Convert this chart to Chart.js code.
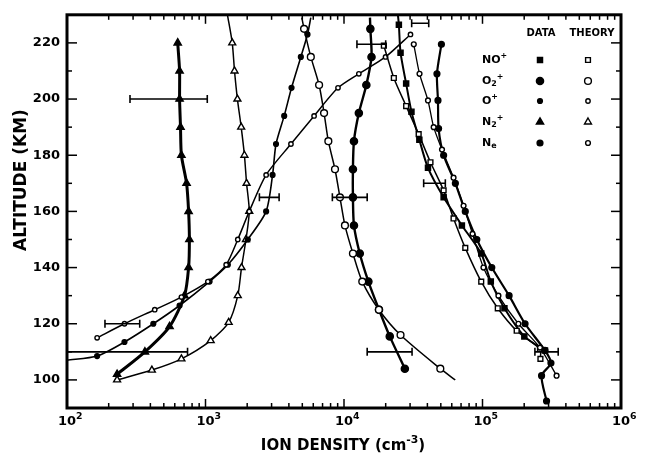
<!DOCTYPE html>
<html>
<head>
<meta charset="utf-8">
<script src="https://cdn.jsdelivr.net/npm/chart.js@4.4.0/dist/chart.umd.min.js"></script>
<style>
  html, body { margin: 0; padding: 0; background: #fff; }
</style>
</head>
<body>
<canvas id="chart" width="650" height="456"></canvas>
<script>
// axis ticks
const xTicks = [1e2, 1e3, 1e4, 1e5, 1e6];
const xTickExp = ['2', '3', '4', '5', '6'];
const yTicks = [100, 120, 140, 160, 180, 200, 220];

// NO+
const noDataAlt = [230, 226.5, 216.5, 205.5, 195.5, 185.5, 175.5, 165, 155, 145, 135, 125.5, 115.5, 110.5];
const noDataVal = [24500, 24900, 25600, 28100, 30700, 35000, 40400, 52400, 71000, 97900, 114800, 144000, 200500, 282500];
const noTheoAlt = [219, 207.5, 197.5, 187.5, 177.5, 167.5, 157.5, 147, 135, 125.5, 117.5, 111, 107.5];
const noTheoVal = [19400, 22900, 28100, 34600, 42100, 52400, 61800, 75100, 97900, 128900, 176500, 260000, 262000];

// O2+
const o2DataAlt = [229, 225, 215, 205, 195, 185, 175, 165, 155, 145, 135, 125, 115.5, 104];
const o2DataVal = [15400, 15500, 15800, 14500, 12800, 11800, 11600, 11600, 11800, 13000, 15000, 17900, 21400, 27500];
const o2TheoAlt = [229, 225, 215, 205, 195, 185, 175, 165, 155, 145, 135, 125, 116, 104, 100];
const o2TheoVal = [4960, 5150, 5760, 6610, 7180, 7710, 8610, 9350, 10160, 11600, 13550, 17860, 25600, 49600, 63600];

// O+
const oDataAlt = [229, 223, 215, 204, 194, 184, 173, 160, 150, 141, 135, 126.5, 120, 113.5, 108.5, 107];
const oDataVal = [5760, 5450, 4880, 4180, 3700, 3230, 3050, 2740, 2020, 1450, 1070, 650, 420, 260, 165, 100];
const oTheoAlt = [223, 215, 209, 204, 194, 184, 173, 160, 150, 141, 135, 129.5, 125, 120, 115];
const oTheoVal = [30200, 19950, 12800, 9050, 6080, 4140, 2740, 2070, 1710, 1410, 1040, 670, 430, 260, 165];

// N2+
const n2DataAlt = [220, 210, 200, 190, 180, 170, 160, 150, 140, 130, 119, 110, 102];
const n2DataVal = [630, 650, 650, 660, 670, 730, 755, 765, 755, 705, 550, 365, 230];
const n2TheoAlt = [230, 220, 210, 200, 190, 180, 170, 160, 150, 140, 130, 120.5, 114, 107.5, 103.5, 100];
const n2TheoVal = [1440, 1560, 1620, 1700, 1810, 1910, 1980, 2070, 1960, 1820, 1710, 1470, 1090, 670, 410, 230];

// Ne
const neDataAlt = [219.5, 209, 199.5, 189.5, 180, 170, 160, 150, 140, 130, 120, 110.5, 106, 101.5, 92.5];
const neDataVal = [50500, 46900, 47700, 48200, 52400, 63700, 75100, 91000, 116700, 155600, 202900, 282500, 312000, 267000, 290000];
const neTheoAlt = [219.5, 209, 199.5, 190, 182, 172, 162, 152, 140, 130, 120, 111.5, 101.5];
const neTheoVal = [31900, 35100, 40400, 44400, 51000, 61800, 73000, 84700, 101600, 130300, 181600, 260000, 342700];

// error bars
const errAlt = [227, 219.5, 200, 170, 165, 165, 120, 110, 110, 110];
const errLo = [30800, 12400, 285, 37600, 2450, 8240, 188, 90, 14700, 239000];
const errHi = [40900, 20000, 1030, 53900, 3400, 14700, 335, 742, 31000, 352000];

const FONT = 'DejaVu Sans';

function pts(alts, vals) {
    return alts.map((a, i) => ({ x: vals[i], y: a }));
}

function series(alts, vals, st) {
    const hide = st.hide || [];
    return {
        data: pts(alts, vals),
        showLine: true,
        borderColor: '#000',
        borderWidth: st.lw,
        tension: 0.25,
        pointStyle: st.shape,
        pointRadius: c => hide.includes(c.dataIndex) ? 0 : st.r,
        pointHoverRadius: 0,
        pointBackgroundColor: st.filled ? '#000' : '#fff',
        pointBorderColor: '#000',
        pointBorderWidth: 1.4
    };
}

// marker styles, also used by the key
const styles = {
    noD: { shape: 'rect', r: 3.6, filled: true, lw: 2 },
    noT: { shape: 'rect', r: 3.4, filled: false, lw: 1.5 },
    o2D: { shape: 'circle', r: 3.6, filled: true, lw: 2.4 },
    o2T: { shape: 'circle', r: 3.4, filled: false, lw: 1.5 },
    oD: { shape: 'circle', r: 2.4, filled: true, lw: 1.6 },
    oT: { shape: 'circle', r: 2.2, filled: false, lw: 1.5 },
    n2D: { shape: 'triangle', r: 4.2, filled: true, lw: 3 },
    n2T: { shape: 'triangle', r: 4, filled: false, lw: 1.5 },
    neD: { shape: 'circle', r: 2.9, filled: true, lw: 2.2 },
    neT: { shape: 'circle', r: 2.4, filled: false, lw: 1.3 }
};

const datasets = [
    series(neTheoAlt, neTheoVal, styles.neT),
    series(neDataAlt, neDataVal, styles.neD),
    series(noTheoAlt, noTheoVal, styles.noT),
    series(noDataAlt, noDataVal, { ...styles.noD, hide: [0] }),
    series(o2TheoAlt, o2TheoVal, { ...styles.o2T, hide: [0, 14] }),
    series(o2DataAlt, o2DataVal, { ...styles.o2D, hide: [0] }),
    series(oTheoAlt, oTheoVal, styles.oT),
    series(oDataAlt, oDataVal, { ...styles.oD, hide: [0, 15] }),
    series(n2TheoAlt, n2TheoVal, { ...styles.n2T, hide: [0] }),
    series(n2DataAlt, n2DataVal, styles.n2D)
];

// text with sub/superscripts, e.g. O2+
function drawParts(ctx, parts, x, y, size) {
    let cx = x;
    parts.forEach(p => {
        const s = p.sub || p.sup ? size * 0.72 : size;
        ctx.font = `bold ${s}px "${FONT}"`;
        const dy = p.sub ? size * 0.3 : (p.sup ? -size * 0.38 : 0);
        ctx.fillText(p.t, cx, y + dy);
        cx += ctx.measureText(p.t).width;
    });
}

const keyRows = [
    { parts: [{ t: 'NO' }, { t: '+', sup: true }], d: styles.noD, th: styles.noT, y: 60 },
    { parts: [{ t: 'O' }, { t: '2', sub: true }, { t: '+', sup: true }], d: styles.o2D, th: styles.o2T, y: 81 },
    { parts: [{ t: 'O' }, { t: '+', sup: true }], d: styles.oD, th: styles.oT, y: 101 },
    { parts: [{ t: 'N' }, { t: '2', sub: true }, { t: '+', sup: true }], d: styles.n2D, th: styles.n2T, y: 122 },
    { parts: [{ t: 'N' }, { t: 'e', sub: true }], d: styles.neD, th: styles.neT, y: 143 }
];

const decorations = {
    id: 'decorations',
    afterDatasetsDraw(chart) {
        const { ctx, chartArea: a, scales: { x, y } } = chart;
        ctx.save();
        ctx.strokeStyle = '#000';
        ctx.fillStyle = '#000';

        // error bars
        ctx.save();
        ctx.beginPath();
        ctx.rect(a.left, a.top, a.right - a.left, a.bottom - a.top);
        ctx.clip();
        ctx.lineWidth = 1.6;
        errAlt.forEach((alt, i) => {
            const py = y.getPixelForValue(alt);
            const x1 = x.getPixelForValue(errLo[i]);
            const x2 = x.getPixelForValue(errHi[i]);
            ctx.beginPath();
            ctx.moveTo(x1, py); ctx.lineTo(x2, py);
            ctx.moveTo(x1, py - 4); ctx.lineTo(x1, py + 4);
            ctx.moveTo(x2, py - 4); ctx.lineTo(x2, py + 4);
            ctx.stroke();
        });
        ctx.restore();

        // frame
        ctx.lineWidth = 3;
        ctx.strokeRect(a.left, a.top, a.right - a.left, a.bottom - a.top);

        // ticks pointing inward
        ctx.lineWidth = 1.5;
        const tick = (x1, y1, x2, y2) => { ctx.beginPath(); ctx.moveTo(x1, y1); ctx.lineTo(x2, y2); ctx.stroke(); };
        for (let d = 2; d < 6; d++) {
            for (let m = 1; m < 10; m++) {
                const px = x.getPixelForValue(m * Math.pow(10, d));
                const len = m === 1 ? 9 : 5;
                tick(px, a.bottom, px, a.bottom - len);
                tick(px, a.top, px, a.top + len);
            }
        }
        for (let v = 100; v <= 220; v += 10) {
            const py = y.getPixelForValue(v);
            const len = yTicks.includes(v) ? 10 : 5;
            tick(a.left, py, a.left + len, py);
            tick(a.right, py, a.right - len, py);
        }

        // x tick labels: 10 with exponent
        ctx.textBaseline = 'middle';
        ctx.textAlign = 'left';
        xTicks.forEach((v, i) => {
            const px = x.getPixelForValue(v);
            ctx.font = `bold 13px "${FONT}"`;
            const w = ctx.measureText('10').width;
            drawParts(ctx, [{ t: '10' }, { t: xTickExp[i], sup: true }], px - w / 2, a.bottom + 14, 13);
        });

        // axis titles
        ctx.textAlign = 'center';
        ctx.font = `bold 17px "${FONT}"`;
        ctx.save();
        ctx.translate(22, 180);
        ctx.rotate(-Math.PI / 2);
        ctx.fillText('ALTITUDE (KM)', 0, 0);
        ctx.restore();
        ctx.textAlign = 'left';
        ctx.font = `bold 15px "${FONT}"`;
        const tw = ctx.measureText('ION DENSITY (cm').width + ctx.measureText(')').width + 14;
        drawParts(ctx, [{ t: 'ION DENSITY (cm' }, { t: '-3', sup: true }, { t: ')' }], (a.left + a.right) / 2 - tw / 2, 446, 15);

        // key
        ctx.textAlign = 'center';
        ctx.font = `bold 10px "${FONT}"`;
        ctx.fillText('DATA', 541, 33);
        ctx.fillText('THEORY', 592, 33);
        ctx.textAlign = 'left';
        keyRows.forEach(r => {
            drawParts(ctx, r.parts, 482, r.y, 11);
            [[r.d, 540], [r.th, 588]].forEach(([st, px]) => {
                ctx.fillStyle = st.filled ? '#000' : '#fff';
                ctx.strokeStyle = '#000';
                ctx.lineWidth = 1.4;
                Chart.helpers.drawPoint(ctx, { pointStyle: st.shape, radius: st.r, rotation: 0, borderWidth: 1.4 }, px, r.y);
                ctx.fillStyle = '#000';
            });
        });
        ctx.restore();
    }
};

new Chart(document.getElementById('chart'), {
    type: 'scatter',
    data: { datasets },
    options: {
        responsive: false,
        animation: false,
        events: [],
        layout: { padding: { top: 13, right: 29, left: 0, bottom: 0 } },
        plugins: { legend: { display: false }, tooltip: { enabled: false } },
        scales: {
            x: {
                type: 'logarithmic',
                min: 100,
                max: 1e6,
                grid: { display: false, drawTicks: false },
                border: { display: false },
                afterBuildTicks: s => { s.ticks = xTicks.map(v => ({ value: v })); },
                afterFit: s => { s.height = 48; },
                ticks: { display: false }
            },
            y: {
                min: 90,
                max: 230,
                grid: { display: false, drawTicks: false },
                border: { display: false },
                afterBuildTicks: s => { s.ticks = yTicks.map(v => ({ value: v })); },
                afterFit: s => { s.width = 67; },
                ticks: {
                    padding: 7,
                    color: '#000',
                    font: { family: FONT, weight: 'bold', size: 13 }
                }
            }
        }
    },
    plugins: [decorations]
});
</script>
</body>
</html>
